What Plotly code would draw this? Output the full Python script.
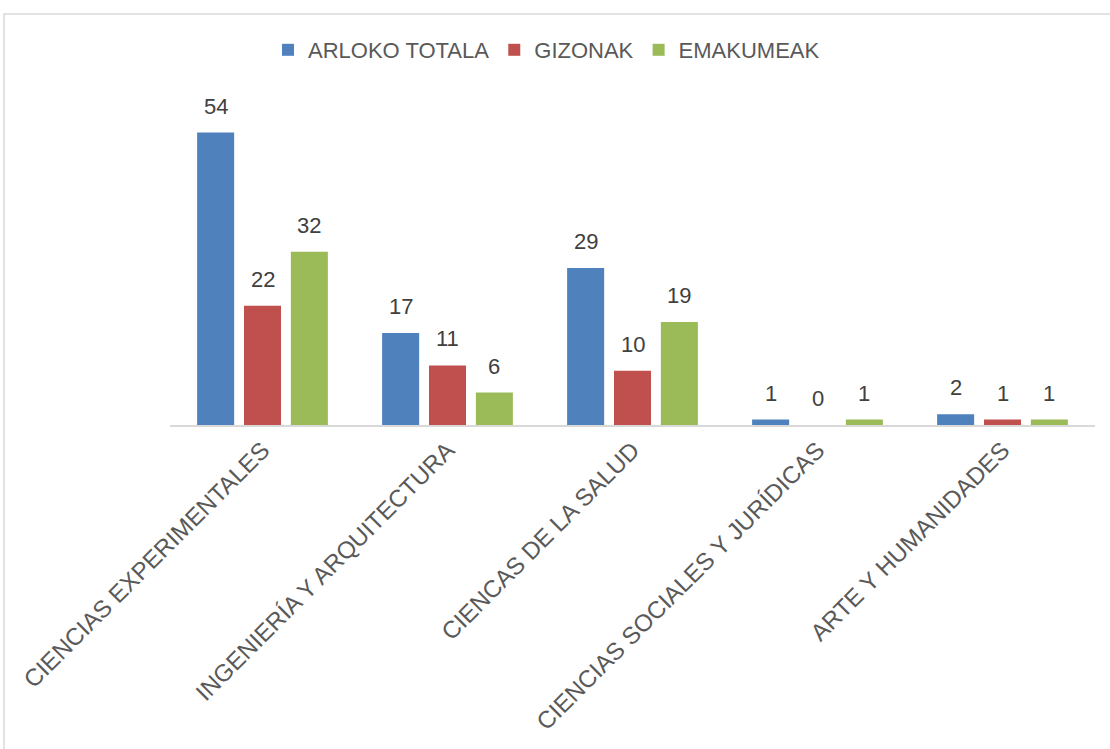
import plotly.graph_objects as go

categories = ["CIENCIAS EXPERIMENTALES", "INGENIERÍA Y ARQUITECTURA", "CIENCAS DE LA SALUD",
              "CIENCIAS SOCIALES Y JURÍDICAS", "ARTE Y HUMANIDADES"]
arloko_totala = [54, 17, 29, 1, 2]
gizonak = [22, 11, 10, 0, 1]
emakumeak = [32, 6, 19, 1, 1]

series = [("ARLOKO TOTALA", arloko_totala, "#4F81BD"),
          ("GIZONAK", gizonak, "#C0504D"),
          ("EMAKUMEAK", emakumeak, "#9BBB59")]

FONT = "Liberation Sans, Arial"
BARGAP = 0.24
BARGROUPGAP = 0.21
positions = list(range(len(categories)))
slot = (1 - BARGAP) / len(series)

fig = go.Figure()
for k, (name, vals, color) in enumerate(series):
    fig.add_trace(go.Bar(
        x=positions, y=vals, name=name,
        marker=dict(color=color, line=dict(width=0)),
        hoverinfo="x+y+name",
    ))
    off = (k - (len(series) - 1) / 2) * slot
    for p, v in zip(positions, vals):
        fig.add_annotation(x=p + off, y=v, xref="x", yref="y", text=str(v),
                           showarrow=False, yanchor="bottom", yshift=12,
                           font=dict(size=22, color="#404040", family=FONT))

W, H = 1110, 749
L, T = 170, 100
axis_y = 425
B = H - axis_y
R = W - 1095
pw, ph = W - L - R, H - T - B

fig.update_layout(
    width=W, height=H,
    margin=dict(l=L, r=R, t=T, b=B, autoexpand=False),
    paper_bgcolor="white", plot_bgcolor="white",
    font=dict(family=FONT, color="#595959"),
    barmode="group", bargap=BARGAP, bargroupgap=BARGROUPGAP,
    showlegend=True,
    legend=dict(orientation="h", x=(268 - L) / pw, xanchor="left",
                y=(T + ph - 50) / ph, yanchor="middle",
                font=dict(size=22, color="#595959", family=FONT),
                itemwidth=30, traceorder="normal"),
    xaxis=dict(showline=True, linecolor="#D9D9D9", linewidth=1.5, ticks="",
               tickmode="array", tickvals=positions, ticktext=categories,
               range=[-0.5, len(categories) - 0.5],
               tickangle=-45, tickfont=dict(size=24, color="#595959", family=FONT),
               showgrid=False, zeroline=False),
    yaxis=dict(range=[0, 60], visible=False, showgrid=False, zeroline=False),
)

fig.add_shape(type="rect", xref="paper", yref="paper",
              x0=(4 - L) / pw, x1=(W + 20 - L) / pw,
              y0=-3, y1=(T + ph - 14) / ph,
              line=dict(color="#D9D9D9", width=1.5), fillcolor="rgba(0,0,0,0)", layer="below")

fig.write_html("out.html",
               config={"displayModeBar": False},
               post_script="document.body.style.margin='0';document.body.style.overflow='hidden';")
